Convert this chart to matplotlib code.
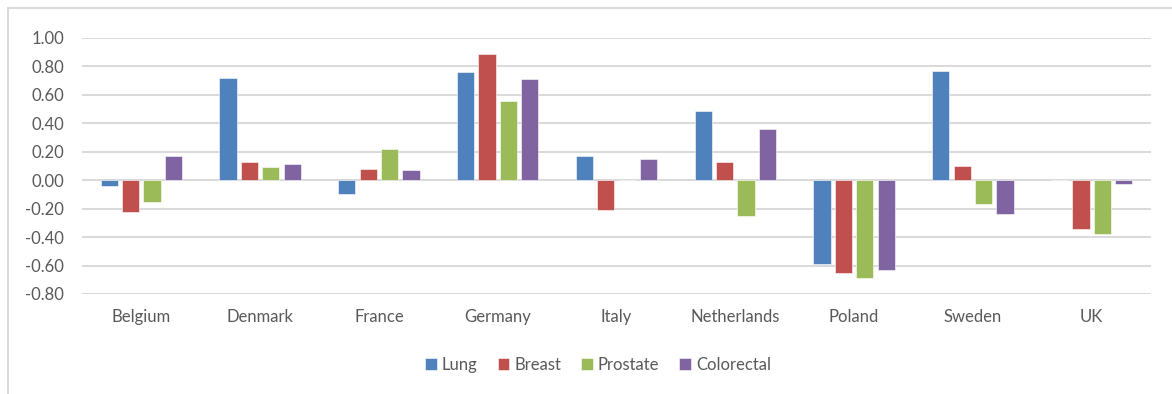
import numpy as np
import matplotlib
matplotlib.use('Agg')
import matplotlib.pyplot as plt
from matplotlib.lines import Line2D

# values
countries = ['Belgium', 'Denmark', 'France', 'Germany', 'Italy',
             'Netherlands', 'Poland', 'Sweden', 'UK']
lung = [-0.04, 0.72, -0.10, 0.76, 0.17, 0.49, -0.59, 0.77, 0.0]
breast = [-0.22, 0.13, 0.08, 0.89, -0.21, 0.13, -0.65, 0.10, -0.34]
prostate = [-0.15, 0.09, 0.22, 0.56, 0.0, -0.25, -0.69, -0.17, -0.38]
colorectal = [0.17, 0.115, 0.07, 0.71, 0.15, 0.36, -0.63, -0.24, -0.03]
series_names = ['Lung', 'Breast', 'Prostate', 'Colorectal']
yticks = [-0.8, -0.6, -0.4, -0.2, 0.0, 0.2, 0.4, 0.6, 0.8, 1.0]

colors = ['#4F81BD', '#C0504D', '#9BBB59', '#8064A2']
grey_text = '#595959'
grid_col = '#D9D9D9'

plt.rcParams['font.family'] = ['Lato', 'DejaVu Sans']

fig = plt.figure(figsize=(11.72, 3.94), dpi=100)
ax = fig.add_axes([82/1172, 1-294/394, (1151-82)/1172, (294-38)/394])

x = np.arange(len(countries))
slot = 0.18
width = 0.145
all_series = [lung, breast, prostate, colorectal]
for i, (vals, name, col) in enumerate(zip(all_series, series_names, colors)):
    ax.bar(x + (i - 1.5) * slot, vals, width, color=col, label=name,
           edgecolor='white', linewidth=0.4, zorder=3)

ax.set_xlim(-0.5, len(countries) - 0.5)
ax.set_ylim(-0.8, 1.0)
ax.set_yticks(yticks)
ax.set_yticklabels([f'{v:.2f}' for v in yticks])
ax.set_xticks(x)
ax.set_xticklabels(countries)
ax.yaxis.grid(True, color=grid_col, linewidth=1.4, zorder=0)
ax.axhline(0, color=grid_col, linewidth=1.4, zorder=1)
for s in ax.spines.values():
    s.set_visible(False)
ax.tick_params(axis='both', length=0, labelsize=12, colors=grey_text)
ax.tick_params(axis='x', pad=11)
ax.tick_params(axis='y', pad=13)

fig.legend(loc='center', bbox_to_anchor=(598/1172, 1-365/394), ncol=4,
           frameon=False, fontsize=12, handlelength=0.7, handleheight=0.7,
           handletextpad=0.3, columnspacing=1.2, labelcolor=grey_text)

# outer chart border (partially visible)
fig.add_artist(Line2D([8/1172, 8/1172], [0, 1-8/394], color=grid_col,
                      linewidth=1.4, transform=fig.transFigure))
fig.add_artist(Line2D([8/1172, 1], [1-8/394, 1-8/394], color=grid_col,
                      linewidth=1.4, transform=fig.transFigure))

fig.savefig('out.png', dpi=100)
